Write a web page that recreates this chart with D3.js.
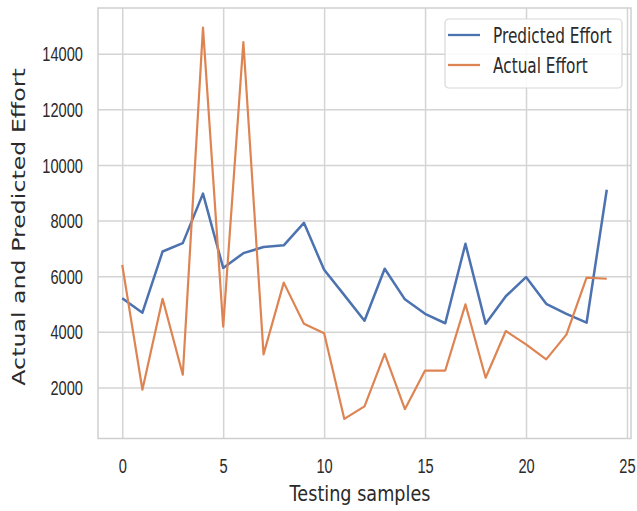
<!DOCTYPE html>
<html>
<head>
<meta charset="utf-8">
<script src="https://cdn.jsdelivr.net/npm/d3@7"></script>
<style>
  body { margin: 0; background: #fff; }
  svg { display: block; font-family: "DejaVu Sans", sans-serif; }
</style>
</head>
<body>
<svg id="chart" width="637" height="511"></svg>
<script>
// readings from the picture
var samples = d3.range(25);
var predicted = [5210, 4690, 6890, 7190, 8970, 6300, 6830, 7050, 7110, 7920,
                 6230, 5320, 4400, 6270, 5170, 4650, 4310, 7170, 4290, 5280,
                 5970, 5010, 4650, 4330, 9110];
var actual = [6410, 1920, 5190, 2460, 14940, 4190, 14420, 3190, 5770, 4290,
              3950, 870, 1320, 3210, 1220, 2610, 2610, 4990, 2350, 4030,
              3550, 3010, 3900, 5950, 5910];
var xTicks = [0, 5, 10, 15, 20, 25];
var yTicks = [2000, 4000, 6000, 8000, 10000, 12000, 14000];
var seriesNames = ["Predicted Effort", "Actual Effort"];
var colors = ["#4c72b0", "#dd8452"];

var svg = d3.select("#chart"),
    pLeft = 98, pRight = 631, pTop = 8, pBottom = 438.5;

// matplotlib style 5% margins
function padded(ext) {
  var m = (ext[1] - ext[0]) * 0.05;
  return [ext[0] - m, ext[1] + m];
}

var x = d3.scaleLinear()
    .domain(padded(d3.extent(samples)))
    .range([pLeft, pRight]);

var y = d3.scaleLinear()
    .domain(padded(d3.extent(predicted.concat(actual))))
    .range([pBottom, pTop]);

// grid + ticks
var gx = svg.append("g")
    .attr("transform", "translate(0," + pBottom + ")")
    .call(d3.axisBottom(x).tickValues(xTicks).tickSize(-(pBottom - pTop)).tickPadding(0));
gx.select(".domain").remove();
gx.selectAll("line").attr("stroke", "#d4d4d4").attr("stroke-width", 1.5);
gx.selectAll("text")
    .attr("y", 34.5)
    .attr("dy", 0)
    .attr("transform", "scale(0.75,1)")
    .attr("fill", "#2a2a2a")
    .style("font-size", "19.5px");

var gy = svg.append("g")
    .attr("transform", "translate(" + pLeft + ",0)")
    .call(d3.axisLeft(y).tickValues(yTicks).tickSize(-(pRight - pLeft)).tickPadding(0)
      .tickFormat(d3.format("d")));
gy.select(".domain").remove();
gy.selectAll("line").attr("stroke", "#d4d4d4").attr("stroke-width", 1.5);
gy.selectAll("text")
    .attr("x", -20)
    .attr("dy", "0.36em")
    .attr("transform", "scale(0.75,1)")
    .attr("fill", "#2a2a2a")
    .style("font-size", "19.5px");

// frame
svg.append("rect")
    .attr("x", pLeft).attr("y", pTop)
    .attr("width", pRight - pLeft).attr("height", pBottom - pTop)
    .attr("fill", "none")
    .attr("stroke", "#cfcfcf")
    .attr("stroke-width", 1.5);

var line = d3.line()
    .x(function(d, i) { return x(samples[i]); })
    .y(function(d) { return y(d); });

[predicted, actual].forEach(function(s, k) {
  svg.append("path")
    .datum(s)
    .attr("fill", "none")
    .attr("stroke", colors[k])
    .attr("stroke-width", k === 0 ? 2.5 : 2.2)
    .attr("stroke-linejoin", "round")
    .attr("d", line);
});

// legend
var lg = svg.append("g").attr("transform", "translate(445,19)");
lg.append("rect")
    .attr("width", 177).attr("height", 69)
    .attr("rx", 4)
    .attr("fill", "#fff").attr("fill-opacity", 0.85)
    .attr("stroke", "#d8d8d8").attr("stroke-width", 1.2);
seriesNames.forEach(function(name, k) {
  var row = lg.append("g").attr("transform", "translate(0," + (16 + k * 30) + ")");
  row.append("line")
    .attr("x1", 3).attr("x2", 35)
    .attr("stroke", colors[k]).attr("stroke-width", 2.3);
  row.append("text")
    .attr("transform", "translate(48,7.5) scale(0.73,1)")
    .attr("fill", "#2a2a2a")
    .style("font-size", "21px")
    .text(name);
});

// axis labels
svg.append("text")
    .attr("transform", "translate(360,501) scale(0.86,1)")
    .attr("text-anchor", "middle")
    .attr("fill", "#2a2a2a")
    .style("font-size", "20.5px")
    .text("Testing samples");

svg.append("text")
    .attr("transform", "translate(18.5,227) rotate(-90) scale(1,0.72)")
    .attr("text-anchor", "middle")
    .attr("dy", "0.36em")
    .attr("fill", "#2a2a2a")
    .style("font-size", "23.7px")
    .text("Actual and Predicted Effort");
</script>
</body>
</html>
